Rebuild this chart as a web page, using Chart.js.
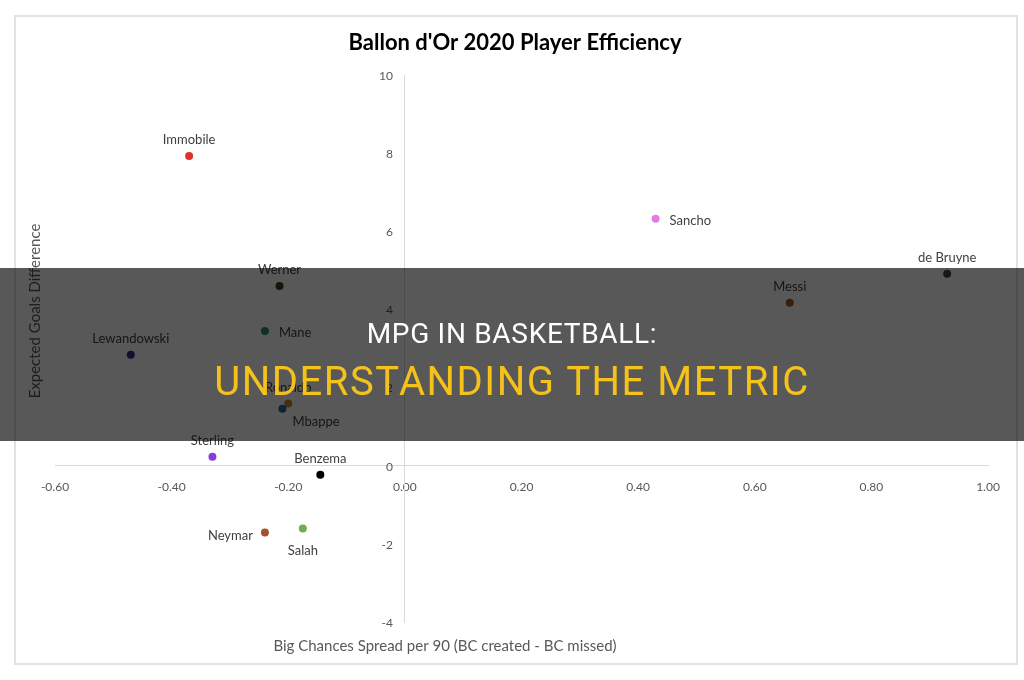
<!DOCTYPE html>
<html>
<head>
<meta charset="utf-8">
<script src="https://cdn.jsdelivr.net/npm/chart.js@4/dist/chart.umd.min.js"></script>
<style>
  html, body { margin: 0; padding: 0; background: #fff; }
  #wrap { position: relative; width: 1024px; height: 680px; overflow: hidden; background: #fff; }
  #frame { position: absolute; left: 14px; top: 15px; width: 1000px; height: 646px; border: 2px solid #e2e2e2; }
  #chart { position: absolute; left: 0; top: 0; }
  #banner { position: absolute; left: 0; top: 268px; width: 1024px; height: 173px; background: rgba(0,0,0,0.655); }
  .line { position: absolute; left: 0; width: 1024px; text-align: center; font-family: Roboto, sans-serif; line-height: 1; white-space: nowrap; }
  #l1 { top: 52px; font-size: 28px; letter-spacing: 0.7px; color: #fff; }
  #l2 { top: 94px; font-size: 40px; letter-spacing: 1.5px; color: #f4c21a; }
</style>
</head>
<body>
<div id="wrap">
  <div id="frame"></div>
  <canvas id="chart" width="1024" height="680"></canvas>
  <div id="banner">
    <div class="line" id="l1">MPG IN BASKETBALL:</div>
    <div class="line" id="l2">UNDERSTANDING THE METRIC</div>
  </div>
</div>
<script>
const players = ['Immobile', 'Sancho', 'de Bruyne', 'Messi', 'Werner', 'Mane', 'Lewandowski',
  'Ronaldo', 'Mbappe', 'Sterling', 'Benzema', 'Neymar', 'Salah'];
const bcSpread = [-0.37, 0.43, 0.93, 0.66, -0.215, -0.24, -0.47, -0.20, -0.21, -0.33, -0.145, -0.24, -0.175];
const xgDiff = [7.93, 6.32, 4.91, 4.17, 4.60, 3.45, 2.84, 1.59, 1.46, 0.23, -0.23, -1.71, -1.61];
const pointColors = ['#e0302b', '#e07ce2', '#444444', '#a05a26', '#2c4620', '#2f8a68', '#2e3080',
  '#c58c2e', '#2a6a9c', '#8b3bdc', '#000000', '#a4502a', '#72ad4c'];
// where each name sits next to its dot
const labelSide = ['top', 'right', 'top', 'top', 'top', 'right', 'top',
  'top', 'bottomRight', 'top', 'top', 'left', 'bottom'];

const xTicks = [-0.6, -0.4, -0.2, 0, 0.2, 0.4, 0.6, 0.8, 1.0];
const yTicks = [-4, -2, 0, 2, 4, 6, 8, 10];

const chartTitle = "Ballon d'Or 2020 Player Efficiency";
const xTitle = 'Big Chances Spread per 90 (BC created - BC missed)';
const yTitle = 'Expected Goals Difference';

const pointNames = {
  id: 'pointNames',
  afterDatasetsDraw(chart) {
    const ctx = chart.ctx;
    const meta = chart.getDatasetMeta(0);
    ctx.save();
    ctx.font = '13px Lato';
    ctx.fillStyle = '#404040';
    ctx.textBaseline = 'middle';
    meta.data.forEach((pt, i) => {
      let dx = 0, dy = -16, align = 'center';
      const side = labelSide[i];
      if (side === 'right') { dx = 14; dy = 2; align = 'left'; }
      if (side === 'left') { dx = -12; dy = 3; align = 'right'; }
      if (side === 'bottom') { dy = 22; }
      if (side === 'bottomRight') { dx = 10; dy = 13; align = 'left'; }
      ctx.textAlign = align;
      ctx.fillText(players[i], pt.x + dx, pt.y + dy);
    });
    ctx.restore();
  }
};

// y tick labels sit left of the crossing axis, plus title and axis titles
const chartText = {
  id: 'chartText',
  afterDraw(chart) {
    const ctx = chart.ctx;
    const xs = chart.scales.x, ys = chart.scales.y;
    const axisX = xs.getPixelForValue(0);
    ctx.save();
    ctx.fillStyle = '#595959';
    ctx.font = '12px Lato';
    ctx.textAlign = 'right';
    ctx.textBaseline = 'middle';
    yTicks.forEach(v => ctx.fillText(String(v), axisX - 12, ys.getPixelForValue(v) + 1));

    ctx.fillStyle = '#000';
    ctx.font = 'bold 22px Lato';
    ctx.textAlign = 'center';
    ctx.fillText(chartTitle, 515, 43);

    ctx.fillStyle = '#595959';
    ctx.font = '15px Lato';
    ctx.fillText(xTitle, 445, 646);
    ctx.translate(35, 311);
    ctx.rotate(-Math.PI / 2);
    ctx.fillText(yTitle, 0, 0);
    ctx.restore();
  }
};

const tickFont = { family: 'Lato', size: 12 };

new Chart(document.getElementById('chart'), {
  type: 'scatter',
  data: {
    datasets: [{
      data: players.map((p, i) => ({ x: bcSpread[i], y: xgDiff[i] })),
      pointBackgroundColor: pointColors,
      pointBorderWidth: 0,
      pointRadius: 4
    }]
  },
  options: {
    responsive: false,
    animation: false,
    layout: { padding: { left: 55, right: 36, top: 75, bottom: 58 } },
    plugins: {
      legend: { display: false },
      tooltip: { enabled: false },
      title: { display: false }
    },
    scales: {
      x: {
        type: 'linear',
        position: { y: 0 },
        min: xTicks[0],
        max: xTicks[xTicks.length - 1],
        afterBuildTicks: s => { s.ticks = xTicks.map(v => ({ value: v })); },
        grid: { display: false, drawTicks: false },
        border: { display: true, color: '#d9d9d9', width: 1 },
        ticks: { color: '#595959', font: tickFont, padding: 14, callback: v => v.toFixed(2) }
      },
      y: {
        type: 'linear',
        position: { x: 0 },
        min: yTicks[0],
        max: yTicks[yTicks.length - 1],
        afterBuildTicks: s => { s.ticks = yTicks.map(v => ({ value: v })); },
        grid: { display: false, drawTicks: false },
        border: { display: true, color: '#d9d9d9', width: 1 },
        ticks: { display: false }
      }
    }
  },
  plugins: [pointNames, chartText]
});
</script>
</body>
</html>
